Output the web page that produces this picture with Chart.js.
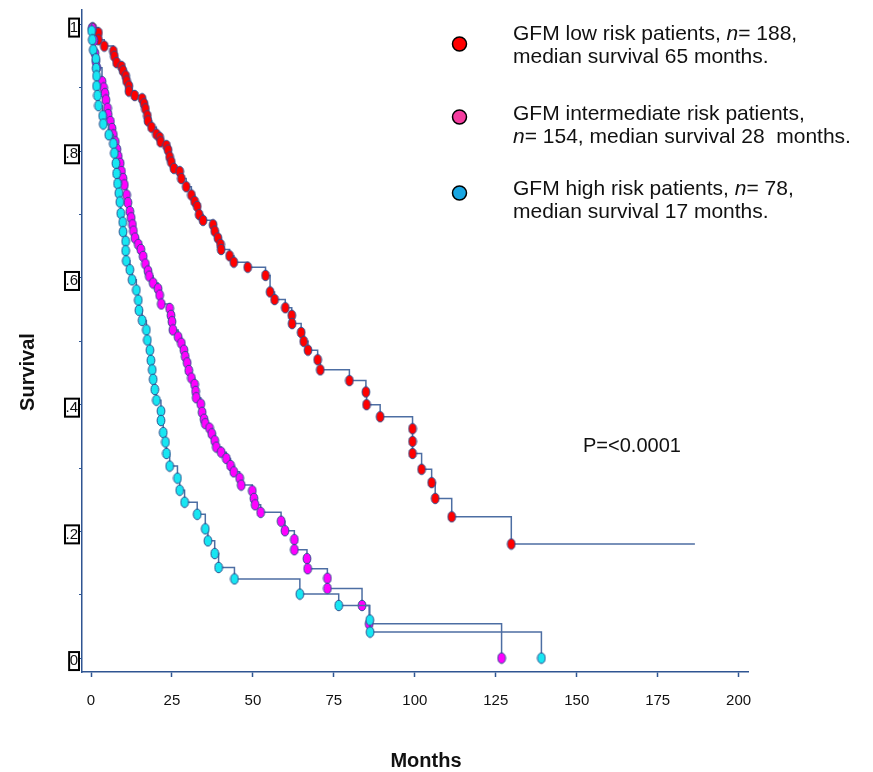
<!DOCTYPE html>
<html>
<head>
<meta charset="utf-8">
<script src="https://cdn.jsdelivr.net/npm/chart.js@4.4.1/dist/chart.umd.min.js"></script>
<style>
  html, body { margin: 0; padding: 0; background: #fff; }
  canvas { display: block; }
</style>
</head>
<body>
<canvas id="km" width="873" height="772"></canvas>
<script>
// Kaplan-Meier curves, one marker per event (month, survival after the drop)
const lowMonths = [0.5, 2.3, 2.3, 4.1, 6.9, 7.2, 7.9, 9.4, 9.9, 10.7, 11.0, 11.7, 11.7, 13.5, 15.8, 16.4, 16.8, 17.4, 17.6, 18.7,
  20.2, 21.2, 21.5, 23.3, 23.8, 24.3, 24.8, 25.6, 27.4, 27.9, 29.4, 31.0, 32.0, 32.8, 33.4, 34.6, 37.7, 38.2, 39.2, 40.0,
  40.2, 42.8, 44.1, 48.4, 53.9, 55.3, 56.7, 60.0, 62.0, 62.1, 64.9, 65.7, 67.0, 70.0, 70.8, 79.8, 84.9, 85.1, 89.3, 99.3,
  99.3, 99.3, 102.1, 105.2, 106.3, 111.4, 129.8];
const lowSurv = [0.995, 0.987, 0.976, 0.966, 0.958, 0.950, 0.940, 0.934, 0.927, 0.919, 0.911, 0.903, 0.895, 0.888, 0.883, 0.875, 0.867, 0.856, 0.848, 0.838,
  0.827, 0.822, 0.815, 0.809, 0.802, 0.791, 0.783, 0.773, 0.768, 0.757, 0.744, 0.731, 0.721, 0.713, 0.700, 0.691, 0.684, 0.674, 0.663, 0.653,
  0.645, 0.635, 0.625, 0.617, 0.604, 0.578, 0.566, 0.553, 0.541, 0.528, 0.514, 0.500, 0.486, 0.471, 0.455, 0.438, 0.420, 0.400, 0.381, 0.362,
  0.342, 0.323, 0.298, 0.277, 0.252, 0.223, 0.180];
const lowFollowUp = 186.5;

const midMonths = [0.4, 0.9, 1.2, 1.5, 1.8, 3.4, 3.9, 4.3, 4.6, 5.1, 5.3, 6.0, 6.5, 6.9, 7.5, 8.0, 8.4, 9.0, 9.4, 9.9,
  10.3, 11.0, 11.4, 12.0, 12.4, 12.8, 13.1, 13.6, 14.6, 15.4, 16.1, 16.8, 17.6, 18.0, 19.2, 20.7, 21.2, 21.7, 24.3, 24.7,
  25.0, 25.3, 26.9, 27.9, 28.7, 29.1, 29.7, 30.2, 31.0, 32.0, 32.3, 32.5, 33.9, 34.3, 34.9, 35.3, 36.6, 37.3, 38.2, 38.7,
  40.2, 41.8, 43.1, 44.1, 45.9, 46.4, 49.8, 50.3, 50.7, 52.4, 58.7, 59.9, 62.8, 62.8, 66.7, 66.9, 73.0, 73.0, 83.7, 85.9,
  126.8];
const midSurv = [0.994, 0.975, 0.955, 0.942, 0.932, 0.910, 0.900, 0.891, 0.881, 0.868, 0.858, 0.847, 0.836, 0.826, 0.815, 0.803, 0.792, 0.781, 0.768, 0.757,
  0.747, 0.731, 0.719, 0.705, 0.695, 0.684, 0.674, 0.663, 0.653, 0.645, 0.634, 0.622, 0.611, 0.603, 0.592, 0.583, 0.573, 0.559, 0.552, 0.541,
  0.531, 0.518, 0.507, 0.497, 0.486, 0.476, 0.466, 0.454, 0.442, 0.432, 0.421, 0.411, 0.401, 0.388, 0.377, 0.370, 0.363, 0.354, 0.343, 0.333,
  0.325, 0.315, 0.304, 0.294, 0.284, 0.273, 0.264, 0.252, 0.242, 0.230, 0.216, 0.201, 0.187, 0.171, 0.157, 0.141, 0.126, 0.110, 0.083, 0.054,
  0];

const highMonths = [0.2, 0.4, 0.7, 1.5, 1.6, 1.7, 1.7, 2.0, 2.3, 3.6, 3.8, 5.5, 6.9, 7.2, 7.7, 7.9, 8.2, 8.6, 8.9, 9.2,
  9.8, 9.9, 10.7, 10.7, 10.9, 12.0, 12.7, 14.0, 14.6, 14.8, 15.8, 17.1, 17.4, 18.2, 18.5, 18.9, 19.2, 19.7, 20.2, 21.6,
  21.6, 22.3, 23.0, 23.3, 24.3, 26.7, 27.4, 28.9, 32.8, 35.3, 36.1, 38.2, 39.4, 44.3, 64.5, 76.5, 86.1, 86.2, 139.1];
const highSurv = [0.990, 0.976, 0.960, 0.946, 0.931, 0.919, 0.903, 0.888, 0.872, 0.856, 0.843, 0.826, 0.812, 0.797, 0.781, 0.765, 0.749, 0.734, 0.720, 0.702,
  0.688, 0.673, 0.658, 0.643, 0.627, 0.613, 0.597, 0.581, 0.565, 0.549, 0.533, 0.518, 0.502, 0.486, 0.470, 0.455, 0.440, 0.424, 0.407, 0.390,
  0.375, 0.356, 0.341, 0.323, 0.303, 0.284, 0.265, 0.246, 0.227, 0.204, 0.185, 0.165, 0.143, 0.125, 0.101, 0.083, 0.060, 0.041, 0];

const xTicks = [0, 25, 50, 75, 100, 125, 150, 175, 200];
const yTicks = [0, 0.1, 0.2, 0.3, 0.4, 0.5, 0.6, 0.7, 0.8, 0.9, 1];
const yTickLabels = ['0', '', '.2', '', '.4', '', '.6', '', '.8', '', '1'];

const legendColors = ['#ff0000', '#f43d9f', '#18a6e2'];
const legendText = [
  ['GFM low risk patients, {n}= 188,', 'median survival 65 months.'],
  ['GFM intermediate risk patients,', '{n}= 154, median survival 28  months.'],
  ['GFM high risk patients, {n}= 78,', 'median survival 17 months.']
];
const pText = 'P=<0.0001';

const FONT = '"Liberation Sans", Arial, sans-serif';
const lineColor = '#4d6ea3';
const axisColor = '#2f5592';

// small ellipse used as marker
function ellipse(fill) {
  const c = document.createElement('canvas');
  c.width = 10;
  c.height = 13;
  const g = c.getContext('2d');
  g.beginPath();
  g.ellipse(5, 6.5, 3.9, 5.3, 0, 0, Math.PI * 2);
  g.fillStyle = fill;
  g.fill();
  g.lineWidth = 1;
  g.strokeStyle = '#2b4c8c';
  g.stroke();
  return c;
}

function buildPoints(months, surv, tail) {
  const pts = [{ x: 0, y: 1, m: false }];
  months.forEach((t, i) => pts.push({ x: t, y: surv[i], m: true }));
  if (tail !== undefined) pts.push({ x: tail, y: surv[surv.length - 1], m: false });
  return pts;
}

function kmDataset(label, pts, fill, order) {
  return {
    label: label,
    data: pts,
    stepped: true,
    borderColor: lineColor,
    borderWidth: 1.5,
    fill: false,
    pointStyle: ellipse(fill),
    pointRadius: ctx => (ctx.raw && ctx.raw.m ? 5 : 0),
    pointHoverRadius: ctx => (ctx.raw && ctx.raw.m ? 5 : 0),
    order: order
  };
}

// boxes round the y tick labels, legend, p value and axis titles
const decorations = {
  id: 'decorations',
  afterDraw(chart) {
    const ctx = chart.ctx;
    const ys = chart.scales.y;
    ctx.save();
    ctx.font = '15px ' + FONT;
    ctx.strokeStyle = '#000';
    ctx.lineWidth = 2;
    yTicks.forEach((v, i) => {
      const lab = yTickLabels[i];
      if (!lab) return;
      const y = ys.getPixelForValue(v) + 3;
      const w = ctx.measureText(lab).width;
      ctx.strokeRect(79 - w - 1.5, y - 9, w + 1.5, 18);
    });

    ctx.fillStyle = '#111';
    ctx.textBaseline = 'alphabetic';
    const circleY = [44, 117, 193];
    const baseY = [40, 120, 195];
    legendText.forEach((lines, i) => {
      ctx.beginPath();
      ctx.arc(459.5, circleY[i], 7, 0, Math.PI * 2);
      ctx.fillStyle = legendColors[i];
      ctx.fill();
      ctx.lineWidth = 1.5;
      ctx.strokeStyle = '#000';
      ctx.stroke();
      ctx.fillStyle = '#111';
      lines.forEach((line, j) => {
        let x = 513;
        line.split(/(\{n\})/).forEach(part => {
          if (!part) return;
          const it = part === '{n}';
          const txt = it ? 'n' : part;
          ctx.font = (it ? 'italic ' : '') + '21px ' + FONT;
          ctx.fillText(txt, x, baseY[i] + j * 23);
          x += ctx.measureText(txt).width;
        });
      });
    });

    ctx.font = '20px ' + FONT;
    ctx.fillText(pText, 583, 452);

    ctx.font = 'bold 20px ' + FONT;
    ctx.textAlign = 'center';
    ctx.textBaseline = 'middle';
    ctx.fillText('Months', 426, 761);
    ctx.translate(28, 372);
    ctx.rotate(-Math.PI / 2);
    ctx.fillText('Survival', 0, 0);
    ctx.restore();
  }
};

new Chart(document.getElementById('km'), {
  type: 'line',
  data: {
    datasets: [
      kmDataset('GFM low risk', buildPoints(lowMonths, lowSurv, lowFollowUp), '#ff0000', 2),
      kmDataset('GFM intermediate risk', buildPoints(midMonths, midSurv), '#ff00ff', 1),
      kmDataset('GFM high risk', buildPoints(highMonths, highSurv), '#17e6f2', 0)
    ]
  },
  options: {
    responsive: false,
    animation: false,
    layout: { padding: { left: 0, right: 125, top: 3, bottom: 0 } },
    plugins: {
      legend: { display: false },
      tooltip: { enabled: false }
    },
    scales: {
      x: {
        type: 'linear',
        min: -2.78,
        max: 202.9,
        afterBuildTicks: s => { s.ticks = xTicks.map(v => ({ value: v })); },
        afterFit: s => { s.height = 100; },
        border: { color: axisColor, width: 1.5 },
        grid: { drawOnChartArea: false, drawTicks: true, tickLength: 5, tickColor: axisColor, tickWidth: 1.5 },
        ticks: { color: '#111', padding: 15, maxRotation: 0, font: { family: FONT, size: 15 } }
      },
      y: {
        type: 'linear',
        min: -0.022,
        max: 1.023,
        afterBuildTicks: s => { s.ticks = yTicks.map(v => ({ value: v })); },
        afterFit: s => { s.width = 82; },
        border: { color: axisColor, width: 1.5 },
        grid: { drawOnChartArea: false, drawTicks: true, tickLength: 3, tickColor: axisColor },
        ticks: {
          color: '#111',
          padding: 1,
          labelOffset: 3,
          font: { family: FONT, size: 15 },
          callback: (v, i) => yTickLabels[i]
        }
      }
    }
  },
  plugins: [decorations]
});
</script>
</body>
</html>
